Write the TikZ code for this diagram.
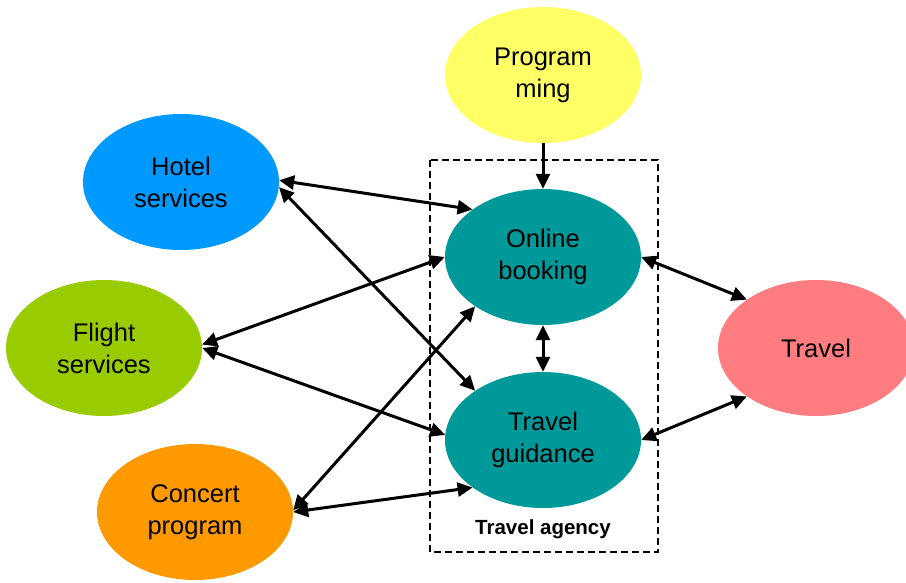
\documentclass[tikz,border=0pt]{standalone}
\usepackage{fontspec}
\setmainfont{Liberation Sans}
\usetikzlibrary{arrows.meta,shapes.geometric}
\definecolor{cyel}{HTML}{FFFF66}
\definecolor{cblue}{HTML}{0099FF}
\definecolor{cgreen}{HTML}{99CC00}
\definecolor{corange}{HTML}{FF9900}
\definecolor{cteal}{HTML}{009999}
\definecolor{cpink}{HTML}{FF7C80}
\tikzset{
  bubble/.style={ellipse, draw=none, minimum width=196pt, minimum height=136pt, inner sep=0pt,
    align=center, font=\fontsize{25.5}{32}\selectfont},
  link/.style={line width=3pt, {Triangle[length=15pt,width=14pt]}-{Triangle[length=15pt,width=14pt]}},
  onelink/.style={line width=3pt, -{Triangle[length=15pt,width=14pt]}},
  agencybox/.style={draw, line width=2.8pt, dash pattern=on 7pt off 4pt}
}
\begin{document}
\begin{tikzpicture}[x=1pt,y=-1pt]
\useasboundingbox (0,0) rectangle (906,582);
\draw[agencybox] (430,160) rectangle (658,552);
\node[font=\bfseries\fontsize{20.5}{22}\selectfont] (agency) at (543,529) {Travel agency};
\node[bubble, fill=cyel] (prog) at (543,75) {Program\\ming};
\node[bubble, fill=cblue] (hotel) at (181,182) {Hotel\\services};
\node[bubble, fill=cgreen] (flight) at (104,348) {Flight\\services};
\node[bubble, fill=corange] (concert) at (195,512) {Concert\\program};
\node[bubble, fill=cteal] (online) at (543,257) {Online\\booking};
\node[bubble, fill=cteal] (guide) at (543,440) {Travel\\guidance};
\node[bubble, fill=cpink] (travel) at (816,348) {Travel};
\draw[onelink] (prog.south) -- (online.north);
\draw[link] (hotel.1) -- (online.146);
\draw[link] (hotel.-3) -- (guide.144);
\draw[link] (flight.2) -- (online.180);
\draw[link] (flight.0) -- (guide.177);
\draw[link] (concert.1) -- (online.216);
\draw[link] (concert.0) -- (guide.214);
\draw[link] (online.south) -- (guide.north);
\draw[link] (online.east) -- (travel.145);
\draw[link] (guide.east) -- (travel.215);
\end{tikzpicture}
\end{document}
